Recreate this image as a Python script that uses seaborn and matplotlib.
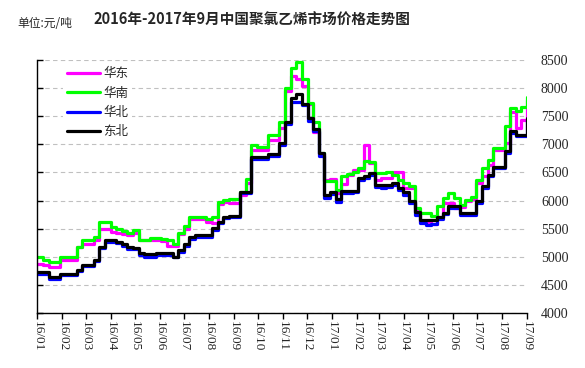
import matplotlib
matplotlib.use("Agg")
import matplotlib.pyplot as plt
import seaborn as sns
import pandas as pd
import numpy as np

sns.set_style("white")
plt.rcParams['font.family'] = ['Noto Sans CJK SC', 'DejaVu Sans']

dates = pd.date_range('2016-01-01', periods=88, freq='7D')

huadong = [4870, 4850, 4820, 4820, 4940, 4940, 4940, 5170, 5230, 5230,
           5300, 5490, 5490, 5440, 5420, 5400, 5390, 5420, 5290, 5290,
           5300, 5300, 5280, 5190, 5190, 5400, 5500, 5670, 5670, 5670,
           5620, 5600, 5940, 5980, 5950, 5950, 6100, 6310, 6900, 6900,
           6900, 7080, 7080, 7290, 7940, 8220, 8170, 8030, 7720, 7220,
           6820, 6370, 6380, 6140, 6300, 6460, 6550, 6550, 6980, 6670,
           6370, 6400, 6400, 6510, 6500, 6220, 6220, 5810, 5620, 5620,
           5590, 5710, 5960, 5960, 5860, 5890, 6000, 6030, 6310, 6430,
           6640, 6900, 6900, 7030, 7570, 7290, 7440, 7780]

huanan = [4990, 4950, 4900, 4900, 5000, 5000, 5000, 5180, 5300, 5300,
          5350, 5610, 5610, 5530, 5500, 5450, 5420, 5470, 5300, 5300,
          5330, 5340, 5310, 5290, 5230, 5420, 5550, 5700, 5700, 5700,
          5670, 5710, 5970, 6010, 6030, 6030, 6160, 6390, 6980, 6950,
          6950, 7160, 7160, 7400, 8000, 8350, 8460, 8170, 7740, 7400,
          6850, 6340, 6340, 6190, 6430, 6470, 6510, 6580, 6710, 6690,
          6490, 6490, 6500, 6450, 6370, 6310, 6250, 5860, 5780, 5780,
          5720, 5900, 6040, 6130, 6040, 5920, 6010, 6070, 6370, 6580,
          6720, 6940, 6940, 7330, 7650, 7600, 7670, 7850]

huabei = [4700, 4700, 4600, 4610, 4680, 4680, 4680, 4740, 4840, 4840,
          4930, 5160, 5270, 5270, 5240, 5190, 5140, 5140, 5040, 4990,
          4990, 5030, 5030, 5030, 5000, 5080, 5200, 5320, 5360, 5360,
          5360, 5480, 5600, 5690, 5700, 5700, 6130, 6130, 6740, 6740,
          6740, 6800, 6800, 6990, 7360, 7760, 7760, 7700, 7420, 7240,
          6800, 6050, 6120, 5970, 6130, 6140, 6150, 6360, 6400, 6460,
          6240, 6230, 6240, 6270, 6190, 6100, 5950, 5740, 5600, 5570,
          5580, 5680, 5760, 5870, 5860, 5750, 5740, 5740, 5960, 6220,
          6430, 6580, 6580, 6850, 7200, 7150, 7150, 7440]

dongbei = [4730, 4730, 4640, 4640, 4700, 4700, 4700, 4760, 4860, 4860,
           4950, 5170, 5290, 5290, 5260, 5220, 5170, 5160, 5070, 5050,
           5050, 5060, 5060, 5060, 5000, 5120, 5230, 5350, 5390, 5390,
           5390, 5510, 5620, 5710, 5720, 5720, 6160, 6160, 6770, 6770,
           6770, 6830, 6830, 7020, 7400, 7830, 7890, 7720, 7470, 7280,
           6850, 6100, 6160, 6020, 6170, 6170, 6170, 6400, 6430, 6490,
           6280, 6280, 6280, 6310, 6230, 6150, 6000, 5800, 5650, 5650,
           5650, 5700, 5780, 5900, 5900, 5780, 5780, 5780, 6000, 6250,
           6460, 6600, 6600, 6880, 7230, 7160, 7160, 7460]

series_names = ['华东', '华南', '华北', '东北']
colors = ['#FF00FF', '#00FF00', '#0000FF', '#000000']
month_ticks = pd.date_range('2016-01-01', '2017-09-01', freq='MS')
month_labels = [d.strftime('%y/%m') for d in month_ticks]
yticks = [4000, 4500, 5000, 5500, 6000, 6500, 7000, 7500, 8000, 8500]

df = pd.concat([
    pd.DataFrame({'date': dates, 'price': vals, 'region': name})
    for name, vals in zip(series_names, [huadong, huanan, huabei, dongbei])
], ignore_index=True)

fig = plt.figure(figsize=(5.85, 3.68), dpi=100)
ax = fig.add_axes([0.064, 0.1495, 0.837, 0.6875])

sns.lineplot(data=df, x='date', y='price', hue='region', hue_order=series_names,
             palette=colors, drawstyle='steps-post', linewidth=2.3, ax=ax,
             legend=True, estimator=None)

ax.set_xlim(dates[0], dates[-1])
ax.set_ylim(4000, 8500)
ax.set_yticks(yticks)
ax.set_xticks(month_ticks)
ax.set_xticklabels(month_labels, rotation=-90, fontsize=9.5, family=['Liberation Serif', 'DejaVu Serif'])
ax.set_yticklabels([str(v) for v in yticks], fontsize=10, family=['Liberation Serif', 'DejaVu Serif'])
ax.tick_params(axis='y', left=True, right=False, labelleft=False, labelright=True,
               direction='in', length=4, width=1, pad=10, color='black')
ax.tick_params(axis='x', bottom=True, direction='out', length=4, width=1, pad=2, color='black')
ax.set_xlabel('')
ax.set_ylabel('')
for s in ['top', 'right']:
    ax.spines[s].set_visible(False)
for s in ['left', 'bottom']:
    ax.spines[s].set_color('black')
    ax.spines[s].set_linewidth(1)
ax.yaxis.grid(True, linestyle=(0, (4, 3)), color='#c0c0c0', linewidth=0.8)
ax.xaxis.grid(False)
ax.set_axisbelow(True)

handles, labels = ax.get_legend_handles_labels()
leg = ax.legend(handles, labels, loc='upper left', bbox_to_anchor=(0.04, 1.01),
                frameon=True, facecolor='white', edgecolor='none', framealpha=1,
                fontsize=9, handlelength=2.6, handletextpad=0.3, labelspacing=0.5,
                borderpad=0.3)
for line in leg.get_lines():
    line.set_linewidth(2.3)

fig.text(0.43, 0.945, '2016年-2017年9月中国聚氯乙烯市场价格走势图', ha='center', va='center',
         fontsize=10.5, fontweight='bold')
fig.text(0.03, 0.935, '单位:元/吨', ha='left', va='center', fontsize=8.5)

fig.savefig('out.png', dpi=100)
